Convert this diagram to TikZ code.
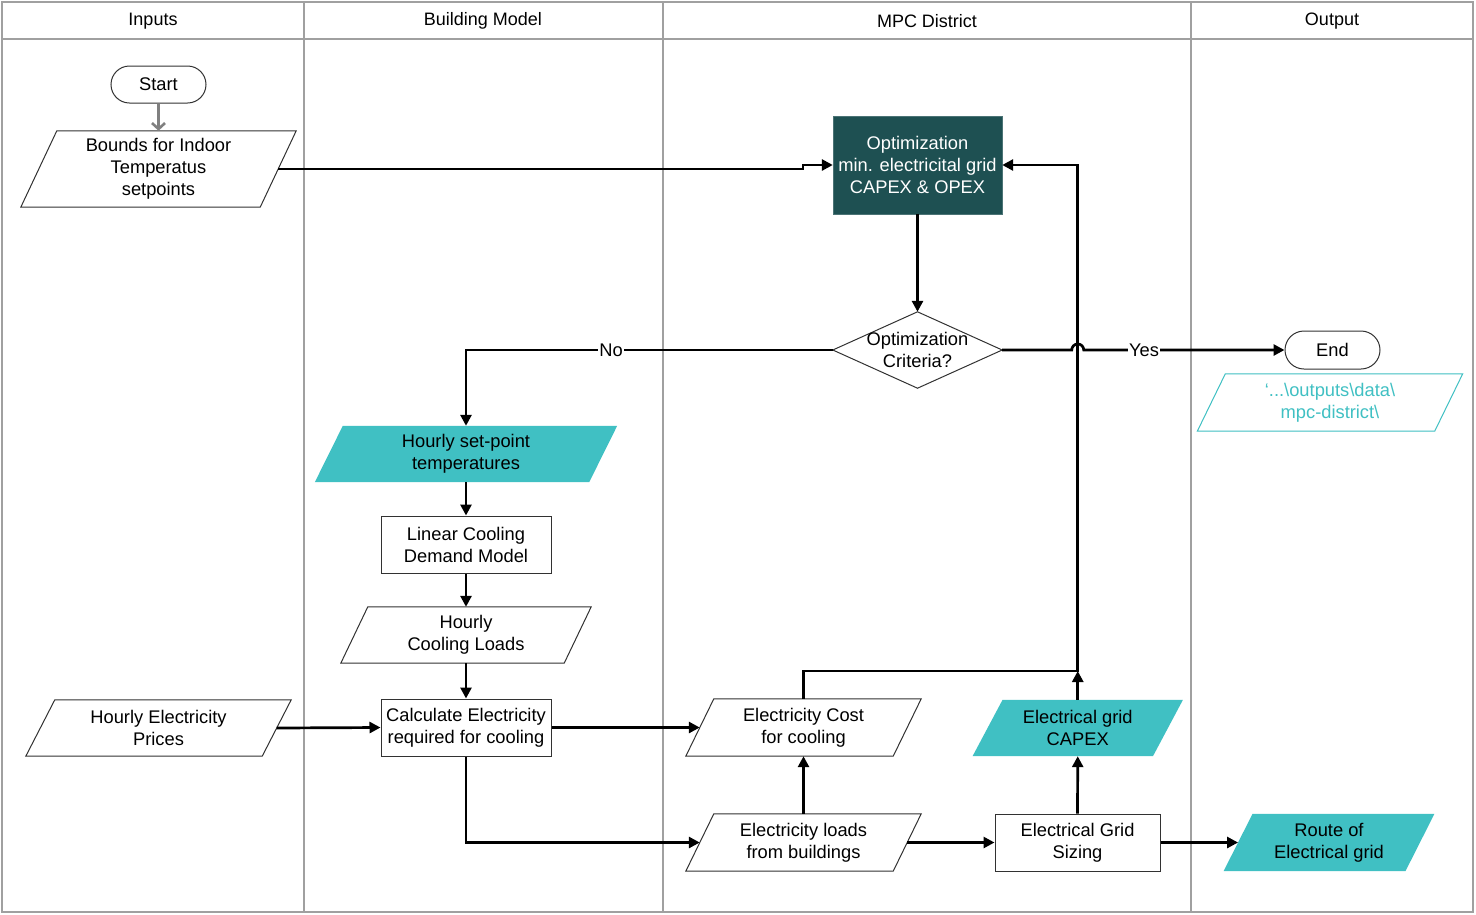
\documentclass[tikz,border=0pt]{standalone}
\usepackage{fontspec}
\setmainfont{Liberation Sans}
\usetikzlibrary{arrows.meta,backgrounds}
\definecolor{lane}{RGB}{160,160,160}
\definecolor{tealfill}{RGB}{64,192,195}
\definecolor{darkteal}{RGB}{30,80,82}
\definecolor{bord}{RGB}{50,50,50}
\newcommand\paradraw[3]{%
  \path[#3] ([xshift=#2pt]#1.north west) -- ([xshift=#2pt]#1.north east) -- ([xshift=-#2pt]#1.south east) -- ([xshift=-#2pt]#1.south west) -- cycle;}
\begin{document}
\begin{tikzpicture}[x=1pt,y=-1pt,
  every node/.style={font=\fontsize{18.3}{22}\selectfont, align=center, inner sep=0pt},
  boxnode/.style={draw=bord, line width=1pt, fill=white},
  txtnode/.style={draw=none},
  conn/.style={line width=2.7pt, -{Triangle[length=11pt,width=11pt]}},
  lbl/.style={fill=white, inner sep=1pt},
  hdr/.style={font=\fontsize{18}{21}\selectfont}
]
\useasboundingbox (0,0) rectangle (1476,914);
% lanes
\begin{scope}[on background layer]
  \draw[lane, line width=1.6pt] (2,2) rectangle (1473,912);
  \draw[lane, line width=1.3pt] (2,39) -- (1473,39);
  \draw[lane, line width=1.6pt] (304,2) -- (304,912);
  \draw[lane, line width=1.6pt] (663,2) -- (663,912);
  \draw[lane, line width=1.6pt] (1191,2) -- (1191,912);
\end{scope}
\node[hdr] (h1) at (153,21) {Inputs};
\node[hdr] (h2) at (483,21) {Building Model};
\node[hdr] (h3) at (927,21) {MPC District};
\node[hdr] (h4) at (1332,21) {Output};

% nodes
\node[boxnode, rounded corners=18.5pt, minimum width=95pt, minimum height=37pt] (start) at (158.5,84.5) {Start};
\node[txtnode, minimum width=239pt, minimum height=76pt] (bounds) at (158.5,169) {Bounds for Indoor\\Temperatus\\setpoints};
\node[draw=darkteal!80, fill=darkteal, text=white, minimum width=169pt, minimum height=98pt] (opt) at (917.5,165) {Optimization\\min. electricital grid\\CAPEX \& OPEX};
\node[txtnode, minimum width=169pt, minimum height=76pt] (crit) at (917.5,350) {Optimization\\Criteria?};
\node[boxnode, rounded corners=19pt, minimum width=95pt, minimum height=38pt] (end) at (1332.5,350) {End};
\node[txtnode, minimum width=237pt, minimum height=57pt, text=tealfill] (outp) at (1330,402.5) {`...\textbackslash outputs\textbackslash data\textbackslash\\mpc-district\textbackslash};
\node[txtnode, minimum width=274pt, minimum height=56pt] (setpoint) at (466,454) {Hourly set-point\\temperatures};
\node[boxnode, minimum width=170pt, minimum height=57pt] (linear) at (466,544.5) {Linear Cooling\\Demand Model};
\node[txtnode, minimum width=223pt, minimum height=56pt] (cload) at (466,635) {Hourly\\Cooling Loads};
\node[boxnode, minimum width=170pt, minimum height=57pt] (calc) at (466,727.5) {Calculate Electricity\\required for cooling};
\node[txtnode, minimum width=236pt, minimum height=56pt] (prices) at (158.5,728) {Hourly Electricity\\Prices};
\node[txtnode, minimum width=207pt, minimum height=57pt] (cost) at (803.5,727.5) {Electricity Cost\\for cooling};
\node[txtnode, minimum width=180pt, minimum height=56pt] (capex) at (1077.75,728) {Electrical grid\\CAPEX};
\node[txtnode, minimum width=207pt, minimum height=57pt] (loads) at (803.5,842.5) {Electricity loads\\from buildings};
\node[boxnode, minimum width=165pt, minimum height=57pt] (sizing) at (1077.5,842.5) {Electrical Grid\\Sizing};
\node[txtnode, minimum width=181.5pt, minimum height=57pt] (route) at (1329,842.5) {Route of\\Electrical grid};

% shapes behind text
\begin{scope}[on background layer]
  \paradraw{bounds}{18}{draw=bord, line width=1pt, fill=white}
  \path[draw=bord, line width=1pt, fill=white] (crit.north) -- (crit.east) -- (crit.south) -- (crit.west) -- cycle;
  \paradraw{outp}{14}{draw=tealfill, line width=1pt, fill=white}
  \paradraw{setpoint}{14}{fill=tealfill}
  \paradraw{cload}{13.5}{draw=bord, line width=1pt, fill=white}
  \paradraw{prices}{14.5}{draw=bord, line width=1pt, fill=white}
  \paradraw{cost}{14}{draw=bord, line width=1pt, fill=white}
  \paradraw{capex}{15}{fill=tealfill}
  \paradraw{loads}{14}{draw=bord, line width=1pt, fill=white}
  \paradraw{route}{14.5}{fill=tealfill}
\end{scope}

\coordinate (join) at (1077.75,671);
\coordinate (jog) at (803,169);

% connectors
\draw[line width=2.6pt, gray, -{Straight Barb[length=6pt,width=13pt]}] (start.south) -- (bounds.north);
\draw[conn] (bounds.east) -- (jog) |- (opt.west);
\draw[conn] (opt.south) -- (crit.north);
\draw[conn] (crit.west) -| (setpoint.north);
\draw[conn] (crit.east) -- ([xshift=-6pt]join |- crit.east) arc[start angle=180, end angle=0, radius=6pt] -- (end.west);
\draw[conn] (capex.north) -- (join);
\draw[conn] (cost.north) |- (join) |- (opt.east);
\draw[conn] (setpoint.south) -- (linear.north);
\draw[conn] (linear.south) -- (cload.north);
\draw[conn] (cload.south) -- (calc.north);
\draw[conn] (prices.east) -- (calc.west);
\draw[conn] (calc.east) -- (cost.west);
\draw[conn] (calc.south) |- (loads.west);
\draw[conn] (loads.north) -- (cost.south);
\draw[conn] (loads.east) -- (sizing.west);
\draw[conn] (sizing.north) -- (capex.south);
\draw[conn] (sizing.east) -- (route.west);

% labels
\node[lbl] (no) at (611,350) {No};
\node[lbl] (yes) at (1144,350) {Yes};
\end{tikzpicture}
\end{document}
